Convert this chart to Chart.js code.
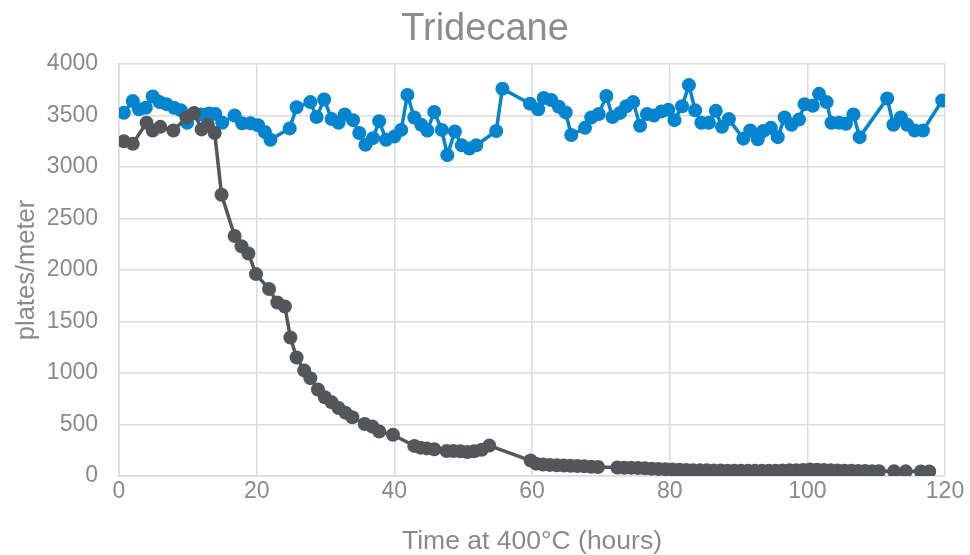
<!DOCTYPE html>
<html>
<head>
<meta charset="utf-8">
<title>Tridecane</title>
<script src="https://cdn.jsdelivr.net/npm/chart.js@4.4.1/dist/chart.umd.min.js"></script>
<style>
  html, body { margin: 0; padding: 0; background: #ffffff; }
  #wrap { width: 970px; height: 555px; position: relative; }
</style>
</head>
<body>
<div id="wrap"><canvas id="chart" width="970" height="555"></canvas></div>
<script>
// Hours at 400 °C and plate counts for the column that degrades
const degradingHours = [0.7, 2.0, 4.0, 4.9, 6.0, 7.9, 9.8, 10.9, 12.0, 12.9, 13.9, 14.9, 16.8, 17.8, 18.8, 19.9, 21.8, 23.0, 24.1, 24.9, 25.8, 26.9, 27.8, 28.9, 29.9, 30.9, 31.9, 32.9, 33.9, 35.7, 36.8, 37.8, 39.8, 42.9, 43.8, 44.7, 45.8, 47.6, 48.6, 49.6, 50.6, 51.6, 52.7, 53.8, 59.8, 60.6, 61.6, 62.6, 63.6, 64.6, 65.6, 66.6, 67.6, 68.6, 69.6, 72.4, 73.4, 74.4, 75.4, 76.4, 77.4, 78.4, 79.4, 80.4, 81.4, 82.4, 83.4, 84.4, 85.4, 86.4, 87.4, 88.4, 89.4, 90.4, 91.4, 92.4, 93.4, 94.4, 95.4, 96.4, 97.4, 98.4, 99.4, 100.4, 101.4, 102.4, 103.4, 104.4, 105.4, 106.4, 107.4, 108.4, 109.4, 110.4, 112.6, 114.3, 116.5, 117.7];
const degradingPlates = [3250, 3225, 3430, 3355, 3390, 3355, 3480, 3525, 3365, 3410, 3330, 2730, 2330, 2230, 2160, 1960, 1815, 1685, 1645, 1345, 1150, 1025, 950, 840, 765, 715, 660, 615, 570, 505, 480, 432, 400, 292, 275, 268, 260, 243, 242, 240, 232, 240, 255, 295, 150, 120, 112, 108, 105, 102, 100, 97, 95, 90, 88, 82, 80, 80, 78, 75, 70, 68, 65, 62, 60, 58, 56, 55, 55, 54, 53, 52, 52, 51, 50, 50, 50, 52, 52, 53, 55, 55, 58, 62, 60, 58, 55, 53, 50, 50, 48, 48, 46, 46, 45, 45, 44, 44];

// Hours at 400 °C and plate counts for the column that stays stable
const stableHours = [0.7, 2.0, 2.9, 3.9, 4.9, 5.9, 6.9, 8.0, 9.0, 9.9, 11.0, 12.0, 13.1, 14.0, 15.0, 16.8, 17.9, 19.1, 20.2, 21.2, 22.0, 24.8, 25.8, 27.8, 28.7, 29.8, 30.9, 31.9, 32.8, 34.0, 34.9, 35.8, 36.9, 37.8, 38.8, 40.0, 41.0, 41.9, 42.9, 43.9, 44.8, 45.8, 46.9, 47.7, 48.8, 49.8, 50.9, 51.9, 54.8, 55.7, 59.7, 60.9, 61.7, 62.8, 63.9, 64.9, 65.7, 67.7, 68.6, 69.7, 70.8, 71.7, 72.8, 73.7, 74.7, 75.7, 76.7, 77.7, 78.8, 79.8, 80.7, 81.8, 82.8, 83.7, 84.6, 85.7, 86.7, 87.6, 88.6, 90.7, 91.7, 92.8, 93.6, 94.7, 95.7, 96.7, 97.7, 98.8, 99.6, 100.8, 101.7, 102.8, 103.5, 104.6, 105.6, 106.7, 107.6, 111.6, 112.5, 113.6, 114.5, 115.6, 116.8, 119.6];
const stablePlates = [3527, 3640, 3560, 3575, 3685, 3630, 3610, 3575, 3550, 3430, 3520, 3510, 3520, 3515, 3430, 3500, 3425, 3425, 3405, 3340, 3265, 3375, 3580, 3630, 3485, 3655, 3465, 3430, 3510, 3455, 3330, 3215, 3280, 3445, 3265, 3295, 3360, 3700, 3480, 3410, 3355, 3535, 3360, 3115, 3345, 3210, 3180, 3210, 3350, 3760, 3615, 3560, 3670, 3650, 3585, 3530, 3310, 3380, 3480, 3515, 3690, 3485, 3525, 3590, 3630, 3400, 3515, 3500, 3540, 3555, 3455, 3590, 3795, 3550, 3430, 3430, 3545, 3390, 3465, 3275, 3355, 3270, 3350, 3380, 3290, 3480, 3410, 3460, 3610, 3595, 3710, 3630, 3430, 3430, 3420, 3510, 3290, 3665, 3410, 3480, 3410, 3355, 3355, 3645];

// Axis ranges and tick spacing
const xRange = [0, 120];
const xStep = 20;
const yRange = [0, 4000];
const yStep = 500;

const chartTitle = 'Tridecane';

const toPoints = (xs, ys) => xs.map((x, i) => ({ x: x, y: ys[i] }));

const FONT = "'Liberation Sans', Arial, sans-serif";
const TEXT = '#8a8a8a';
const GRID = '#dcdcdc';

// Title centred on the whole canvas rather than on the layout box
const canvasTitle = {
  id: 'canvasTitle',
  afterDraw(chart) {
    const ctx = chart.ctx;
    ctx.save();
    ctx.fillStyle = '#8c8c8c';
    ctx.font = '38px ' + FONT;
    ctx.textAlign = 'center';
    ctx.textBaseline = 'alphabetic';
    ctx.fillText(chartTitle, chart.width / 2, 40);
    ctx.restore();
  }
};

new Chart(document.getElementById('chart'), {
  type: 'line',
  data: {
    datasets: [
      {
        label: 'Degrading column',
        data: toPoints(degradingHours, degradingPlates),
        borderColor: '#53565b',
        backgroundColor: '#53565b',
        borderWidth: 3.5,
        pointRadius: 7,
        pointBorderWidth: 0,
        tension: 0
      },
      {
        label: 'Stable column',
        data: toPoints(stableHours, stablePlates),
        borderColor: '#0584d0',
        backgroundColor: '#0584d0',
        borderWidth: 3.5,
        pointRadius: 7,
        pointBorderWidth: 0,
        tension: 0
      }
    ]
  },
  options: {
    responsive: false,
    animation: false,
    layout: { padding: { left: 0, right: 25, top: 64, bottom: 0 } },
    plugins: {
      legend: { display: false },
      tooltip: { enabled: false },
      title: { display: false }
    },
    scales: {
      x: {
        type: 'linear',
        min: xRange[0],
        max: xRange[1],
        ticks: { stepSize: xStep, color: TEXT, font: { family: FONT, size: 23 }, padding: 2, maxRotation: 0 },
        grid: { color: GRID, lineWidth: 1.5, drawTicks: false },
        border: { color: GRID, width: 1.5 },
        title: {
          display: true,
          text: 'Time at 400°C (hours)',
          color: TEXT,
          font: { family: FONT, size: 26.5, lineHeight: 1.0 },
          padding: { top: 0, bottom: 0 }
        },
        afterFit: (scale) => { scale.height = 79; }
      },
      y: {
        type: 'linear',
        min: yRange[0],
        max: yRange[1],
        ticks: {
          stepSize: yStep,
          color: TEXT,
          font: { family: FONT, size: 23 },
          padding: 21,
          callback: (v) => String(v)
        },
        grid: { color: GRID, lineWidth: 1.5, drawTicks: false },
        border: { color: GRID, width: 1.5 },
        title: {
          display: true,
          text: 'plates/meter',
          color: TEXT,
          font: { family: FONT, size: 25.5 },
          padding: { top: 12, bottom: 0 }
        },
        afterFit: (scale) => { scale.width = 119; }
      }
    }
  },
  plugins: [canvasTitle]
});
</script>
</body>
</html>
